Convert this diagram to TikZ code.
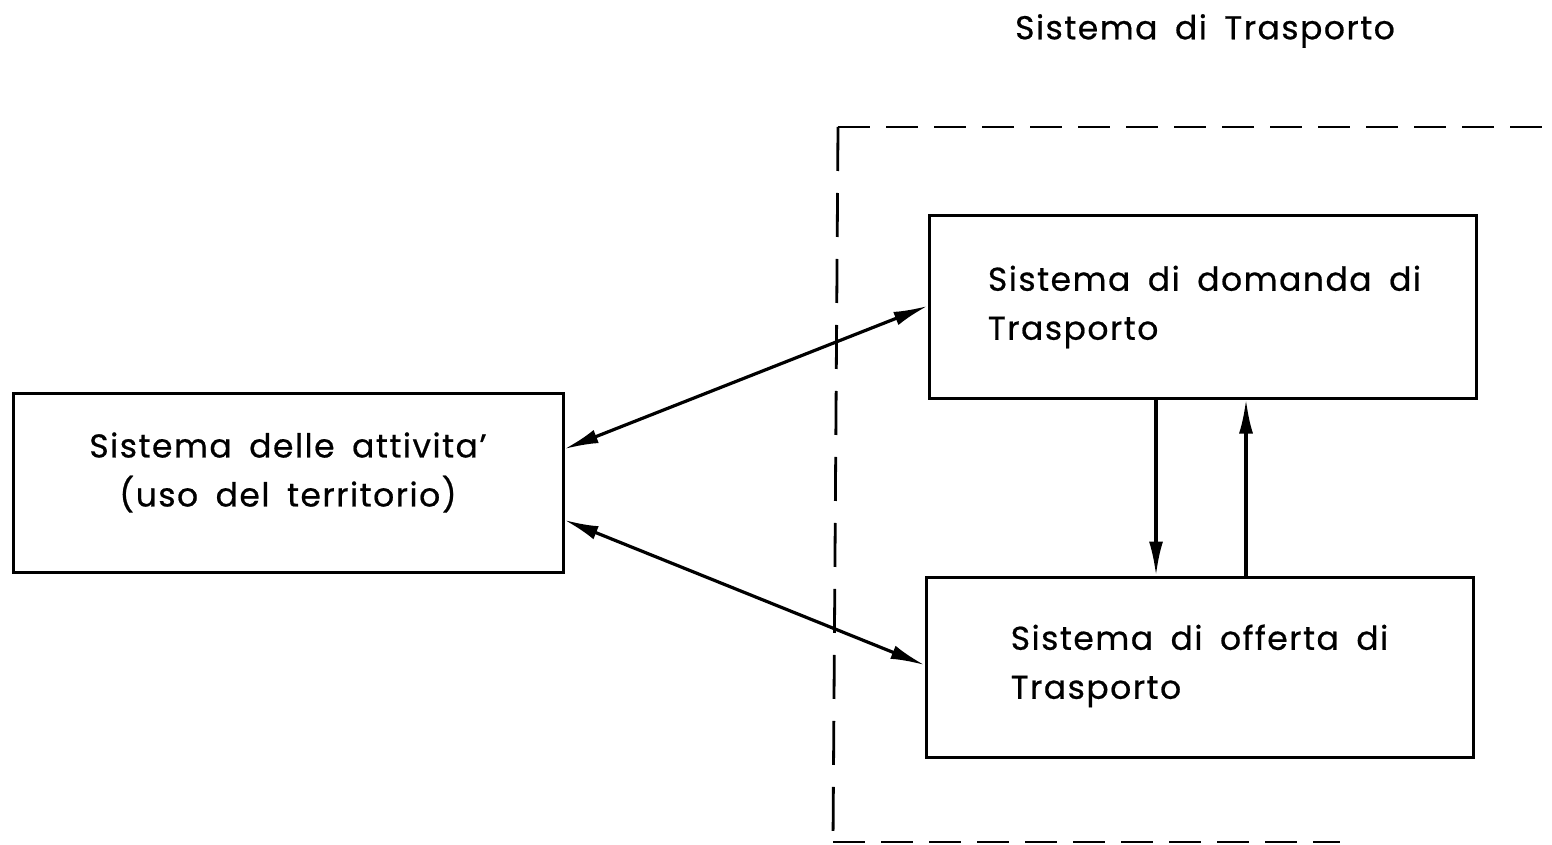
\documentclass[tikz,border=0pt]{standalone}
\usepackage{fontspec}
\setmainfont[LetterSpace=4.5,WordSpace=1.7,FakeBold=0.6]{Poppins}
\usetikzlibrary{arrows.meta,calc}
\begin{document}
\begin{tikzpicture}[x=0.5pt,y=-0.5pt,
  box/.style={draw,line width=1.5pt,inner sep=0pt},
  txt/.style={font=\fontsize{16.5}{24.5}\selectfont,inner sep=0pt},
  link/.style={line width=1.6pt,{Latex[length=17pt,width=7pt]}-{Latex[length=17pt,width=7pt]}},
  onehead/.style={line width=1.6pt,-{Latex[length=17pt,width=7pt]}},
  frame/.style={line width=1.4pt}]
\useasboundingbox (0,0) rectangle (1552,845);
\node[txt] (title) at (1205,31) {Sistema di Trasporto};
\node[box,minimum width=275pt,minimum height=89.5pt] (L) at (288,482.5) {};
\node[txt,align=center] (Lt) at ($(L)+(0,-10)$) {Sistema delle attivita'\\(uso del territorio)};
\node[box,minimum width=273.5pt,minimum height=91pt] (D) at (1202.5,307) {};
\node[txt,align=left] (Dt) at ($(D)+(2,0)$) {Sistema di domanda di\\Trasporto};
\node[box,minimum width=273.5pt,minimum height=90pt] (O) at (1199.5,667) {};
\node[txt,align=left] (Ot) at ($(O)+(0,-1)$) {Sistema di offerta di\\Trasporto};
\coordinate (ftl) at (838,127);
\coordinate (fbl) at (833,842);
\coordinate (ftr) at (1552,127);
\coordinate (fbr) at (1340,842);
\draw[frame,dash pattern=on 22pt off 11pt] (ftl) -- (fbl);
\draw[frame,dash pattern=on 16pt off 8pt] (ftl) -- (ftr);
\draw[frame,dash pattern=on 16pt off 8pt] (fbl) -- (fbr);
\draw[link] ($(L.east)+(0,-33.5)$) -- ($(D.west)+(0,-1)$);
\draw[link] ($(L.east)+(0,37.5)$) -- ($(O.west)+(0,-2)$);
\coordinate (dn) at ($(D.south)+(-46.5,0)$);
\coordinate (up) at ($(D.south)+(43.5,0)$);
\draw[onehead] (dn) -- (dn |- O.north);
\draw[onehead] (up |- O.north) -- (up);
\end{tikzpicture}
\end{document}
